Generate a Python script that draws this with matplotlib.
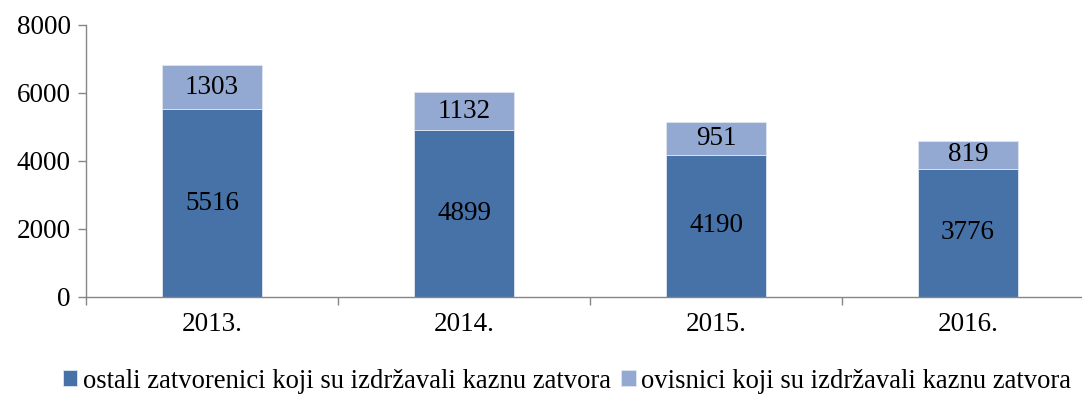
import matplotlib.pyplot as plt
import numpy as np

years = ["2013.", "2014.", "2015.", "2016."]
ostali = [5516, 4899, 4190, 3776]
ovisnici = [1303, 1132, 951, 819]
series_names = ["ostali zatvorenici koji su izdržavali kaznu zatvora",
                "ovisnici koji su izdržavali kaznu zatvora"]
yticks = [0, 2000, 4000, 6000, 8000]

plt.rcParams['font.family'] = ['Liberation Serif', 'DejaVu Serif']
plt.rcParams['font.size'] = 19.5

dark = "#4672a8"
light = "#93a9d2"
axis_gray = "#868686"

fig = plt.figure(figsize=(10.82, 3.94), dpi=100)
ax = fig.add_axes([86 / 1082, 1 - 297 / 394, 1008 / 1082, 272 / 394])

x = np.arange(len(years))
b1 = ax.bar(x, ostali, width=0.4, color=dark, edgecolor="#dfe6f0", linewidth=0.6,
            label=series_names[0])
b2 = ax.bar(x, ovisnici, width=0.4, bottom=ostali, color=light, edgecolor="#dfe6f0",
            linewidth=0.6, label=series_names[1])
ax.bar_label(b1, labels=[str(v) for v in ostali], label_type="center")
ax.bar_label(b2, labels=[str(v) for v in ovisnici], label_type="center")

ax.set_xlim(-0.5, len(years) - 0.5)
ax.set_ylim(0, 8000)
ax.set_yticks(yticks)
ax.set_xticks(x)
ax.set_xticklabels(years)
ax.tick_params(axis="x", length=0, pad=11)
ax.set_xticks(np.arange(len(years) + 1) - 0.5, minor=True)
ax.tick_params(axis="x", which="minor", length=6, color=axis_gray, width=1)
ax.tick_params(axis="y", length=6, color=axis_gray, width=1, pad=5)

for side in ["top", "right"]:
    ax.spines[side].set_visible(False)
for side in ["left", "bottom"]:
    ax.spines[side].set_color(axis_gray)
    ax.spines[side].set_linewidth(1)

fig.legend(handles=[b1, b2], loc="center", bbox_to_anchor=(0.524, 1 - 381 / 394),
           ncol=2, frameon=False, fontsize=19.2, handlelength=0.55, handleheight=0.55,
           handletextpad=0.2, columnspacing=0.4, borderpad=0)

fig.savefig("out.png", dpi=100)
